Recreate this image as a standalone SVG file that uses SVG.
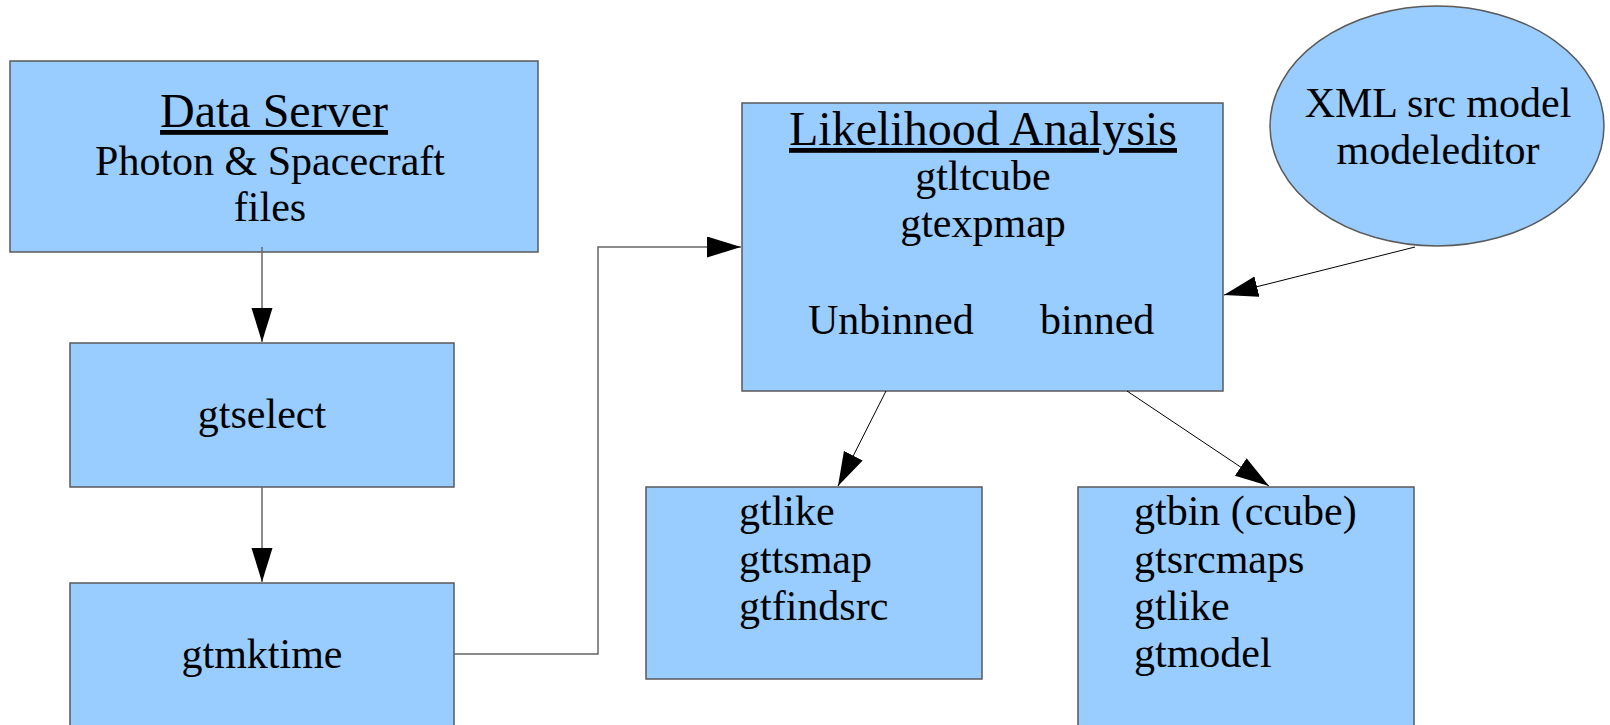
<svg xmlns="http://www.w3.org/2000/svg" width="1610" height="725" viewBox="0 0 1610 725">
<defs>
<marker id="ah" markerUnits="userSpaceOnUse" markerWidth="36" markerHeight="22" refX="34" refY="10.5" orient="auto">
<path d="M0,0 L34,10.5 L0,21 z" fill="#000"/>
</marker>
</defs>
<style>
.box{fill:#99ccff;stroke:#5a5a5a;stroke-width:1.5}
.t{font-family:"Liberation Serif","Times New Roman",serif;font-size:42px;fill:#000}
.c{text-anchor:middle}
.h{font-size:48px;text-decoration:underline}
.conn{fill:none;stroke:#666;stroke-width:1.5}
.diag{fill:none;stroke:#000;stroke-width:1}
</style>
<rect width="1610" height="725" fill="#fff"/>
<g id="data-server">
<rect class="box" x="10" y="61" width="528" height="191"/>
<text class="t c h" x="274" y="127">Data Server</text>
<text class="t c" x="270" y="175">Photon &amp; Spacecraft</text>
<text class="t c" x="270" y="221">files</text>
</g>
<g id="gtselect">
<rect class="box" x="70" y="343" width="384" height="144"/>
<text class="t c" x="262" y="428">gtselect</text>
</g>
<g id="gtmktime">
<rect class="box" x="70" y="583" width="384" height="160"/>
<text class="t c" x="262" y="668">gtmktime</text>
</g>
<g id="likelihood">
<rect class="box" x="742" y="103" width="481" height="288"/>
<text class="t c h" x="983" y="145">Likelihood Analysis</text>
<text class="t c" x="983" y="190">gtltcube</text>
<text class="t c" x="983" y="237">gtexpmap</text>
<text class="t" x="808" y="334">Unbinned</text>
<text class="t" x="1040" y="334">binned</text>
</g>
<g id="xml-model">
<ellipse class="box" cx="1437" cy="126" rx="167" ry="120"/>
<text class="t c" x="1438" y="117">XML src model</text>
<text class="t c" x="1438" y="164">modeleditor</text>
</g>
<g id="unbinned-tools">
<rect class="box" x="646" y="487" width="336" height="192"/>
<text class="t" x="739" y="525">gtlike</text>
<text class="t" x="739" y="573">gttsmap</text>
<text class="t" x="739" y="620">gtfindsrc</text>
</g>
<g id="binned-tools">
<rect class="box" x="1078" y="487" width="336" height="260"/>
<text class="t" x="1134" y="525">gtbin (ccube)</text>
<text class="t" x="1134" y="573">gtsrcmaps</text>
<text class="t" x="1134" y="620">gtlike</text>
<text class="t" x="1134" y="667">gtmodel</text>
</g>
<g id="connectors">
<line class="conn" x1="262" y1="247" x2="262" y2="342" marker-end="url(#ah)"/>
<line class="conn" x1="262" y1="487" x2="262" y2="582" marker-end="url(#ah)"/>
<polyline class="conn" points="454,654 598,654 598,247 741,247" marker-end="url(#ah)"/>
<line class="diag" x1="1415" y1="247" x2="1224" y2="295" marker-end="url(#ah)"/>
<line class="diag" x1="886" y1="391" x2="838" y2="486" marker-end="url(#ah)"/>
<line class="diag" x1="1127" y1="391" x2="1269" y2="486" marker-end="url(#ah)"/>
</g>
</svg>
